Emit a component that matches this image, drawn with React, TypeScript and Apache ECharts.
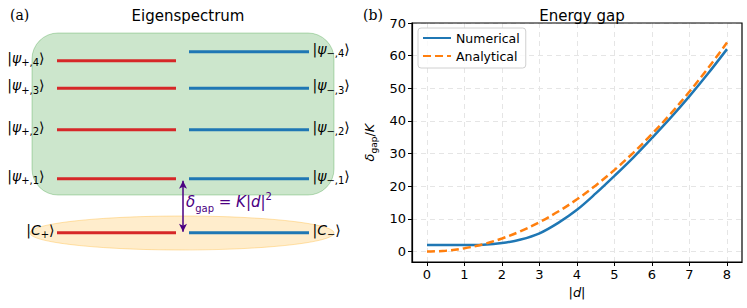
import React, { useEffect, useRef } from "react";
import * as echarts from "echarts";

// ---- Data ----
const dValues = [0, 0.5, 1, 1.5, 2, 2.5, 3, 3.5, 4, 4.5, 5, 5.5, 6, 6.5, 7, 7.5, 8];
const numerical = [2.0, 2.0, 2.0, 2.1, 2.6, 3.7, 5.6, 8.8, 12.8, 17.8, 23.2, 28.8, 34.8, 41.0, 47.6, 54.6, 62.0];
const analytical = [0, 0.25, 1, 2.25, 4, 6.25, 9, 12.25, 16, 20.25, 25, 30.25, 36, 42.25, 49, 56.25, 64];
const xTicks = [0, 1, 2, 3, 4, 5, 6, 7, 8];
const yTicks = [0, 10, 20, 30, 40, 50, 60, 70];

// Eigenspectrum levels (arbitrary energy units), index 0 = cat state
const plusLevels = [0, 5.4, 10.3, 14.45, 17.2];
const minusLevels = [0, 5.4, 10.3, 14.45, 18.1];

const RED = "#d62728";
const BLUE = "#1f77b4";
const ORANGE = "#ff7f0e";
const FONT = "DejaVu Sans";

function ketLabel(i: number, plus: boolean) {
  const sign = plus ? "+" : "−";
  if (i === 0) return `{n||}{it|C}{s|${sign}}{n|⟩}`;
  return `{n||}{it|ψ}{s|${sign},${i}}{n|⟩}`;
}

const ketRich = {
  n: { fontFamily: FONT, fontSize: 14, color: "#000", lineHeight: 20 },
  it: { fontFamily: FONT, fontStyle: "italic", fontSize: 14, color: "#000", lineHeight: 20 },
  s: { fontFamily: FONT, fontSize: 10, color: "#000", lineHeight: 20, verticalAlign: "bottom" },
};

export default function App() {
  const ref = useRef<HTMLDivElement>(null);
  useEffect(() => {
    if (!ref.current) return;
    const chart = echarts.init(ref.current, undefined, { renderer: "svg" });

    const levelSeries: any[] = [];
    const xR0 = 57, xR1 = 176, xB0 = 189, xB1 = 309;
    plusLevels.forEach((E) => {
      levelSeries.push({
        type: "line",
        xAxisIndex: 0,
        yAxisIndex: 0,
        symbol: "none",
        silent: true,
        lineStyle: { color: RED, width: 3 },
        data: [[xR0, E], [xR1, E]],
        z: 3,
      });
    });
    minusLevels.forEach((E) => {
      levelSeries.push({
        type: "line",
        xAxisIndex: 0,
        yAxisIndex: 0,
        symbol: "none",
        silent: true,
        lineStyle: { color: BLUE, width: 3 },
        data: [[xB0, E], [xB1, E]],
        z: 3,
      });
    });
    // ket labels
    levelSeries.push({
      type: "scatter",
      xAxisIndex: 0,
      yAxisIndex: 0,
      symbolSize: 1,
      silent: true,
      itemStyle: { color: "rgba(0,0,0,0)", opacity: 1 },
      z: 6,
      data: [
        ...plusLevels.map((E, i) => ({
          value: [xR0, E],
          label: {
            show: true,
            position: "left",
            distance: i === 0 ? 2 : 12,
            offset: [0, -3],
            color: "#000",
            opacity: 1,
            formatter: ketLabel(i, true),
            rich: ketRich,
          },
        })),
        ...minusLevels.map((E, i) => ({
          value: [xB1, E],
          label: {
            show: true,
            position: "right",
            distance: 3,
            offset: [0, -3],
            color: "#000",
            opacity: 1,
            formatter: ketLabel(i, false),
            rich: ketRich,
          },
        })),
      ],
    });
    // gap arrow
    levelSeries.push({
      type: "line",
      xAxisIndex: 0,
      yAxisIndex: 0,
      symbol: "none",
      data: [],
      markLine: {
        silent: true,
        symbol: ["arrow", "arrow"],
        symbolSize: [6, 8],
        lineStyle: { color: "indigo", width: 1.5, type: "solid" },
        label: { show: false },
        data: [[{ coord: [183, plusLevels[0] + 0.1] }, { coord: [183, plusLevels[1] - 0.2] }]],
      },
    });

    const option: any = {
      animation: false,
      textStyle: { fontFamily: FONT },
      title: [
        { text: "Eigenspectrum", left: 183, top: 3, textAlign: "center", textStyle: { fontFamily: FONT, fontSize: 15, fontWeight: "normal", color: "#000" } },
        { text: "Energy gap", left: 577, top: 3, textAlign: "center", textStyle: { fontFamily: FONT, fontSize: 15, fontWeight: "normal", color: "#000" } },
      ],
      grid: [
        { left: 0, top: 32.7, width: 380, height: 250, show: false },
        { left: 412, top: 23, right: 5, bottom: 46, show: false },
      ],
      xAxis: [
        { gridIndex: 0, type: "value", min: 0, max: 380, show: false },
        {
          gridIndex: 1,
          type: "value",
          min: -0.4,
          max: 8.4,
          name: "{n||}{d|d}{n||}",
          nameLocation: "middle",
          nameGap: 24,
          nameTextStyle: {
            rich: {
              n: { fontFamily: FONT, fontSize: 13, color: "#000" },
              d: { fontFamily: FONT, fontStyle: "italic", fontSize: 13, color: "#000" },
            },
          },
          axisLine: { show: true, onZero: false, lineStyle: { color: "#000", width: 1.2 } },
          axisTick: { show: true, inside: false, length: 4, customValues: xTicks, lineStyle: { color: "#000" } },
          axisLabel: { show: true, customValues: xTicks, fontFamily: FONT, fontSize: 13, color: "#000", margin: 6 },
          splitLine: { show: true, lineStyle: { color: "#e5e5e5", type: [5, 4], width: 1 } },
        },
      ],
      yAxis: [
        { gridIndex: 0, type: "value", min: -5, max: 20, show: false },
        {
          gridIndex: 1,
          type: "value",
          min: -3.2,
          max: 70,
          name: "{d|δ}{s|gap}{n|/}{d|K}",
          nameLocation: "middle",
          nameRotate: 90,
          nameGap: 34,
          nameTextStyle: {
            rich: {
              d: { fontFamily: FONT, fontStyle: "italic", fontSize: 13, color: "#000", lineHeight: 18 },
              s: { fontFamily: FONT, fontSize: 9, color: "#000", lineHeight: 18, verticalAlign: "bottom" },
              n: { fontFamily: FONT, fontSize: 13, color: "#000", lineHeight: 18 },
            },
          },
          axisLine: { show: true, onZero: false, lineStyle: { color: "#000", width: 1.2 } },
          axisTick: { show: true, inside: false, length: 4, customValues: yTicks, lineStyle: { color: "#000" } },
          axisLabel: { show: true, customValues: yTicks, fontFamily: FONT, fontSize: 13, color: "#000", margin: 6 },
          splitLine: { show: true, lineStyle: { color: "#e5e5e5", type: [5, 4], width: 1 } },
        },
      ],
      legend: {
        left: 418,
        top: 28,
        orient: "vertical",
        itemWidth: 28,
        itemHeight: 1,
        itemGap: 4,
        padding: [3, 6, 5, 4],
        borderColor: "#d0d0d0",
        borderWidth: 1,
        borderRadius: 3,
        backgroundColor: "rgba(255,255,255,0.8)",
        itemStyle: { opacity: 0 },
        textStyle: { fontFamily: FONT, fontSize: 12.5, color: "#000", lineHeight: 14 },
        data: ["Numerical", "Analytical"],
      },
      graphic: [
        { type: "text", left: 10, top: 8, z: 10, style: { text: "(a)", font: "14px 'DejaVu Serif'", fill: "#000" } },
        { type: "text", left: 363, top: 8, z: 10, style: { text: "(b)", font: "14px 'DejaVu Serif'", fill: "#000" } },
        {
          type: "rect",
          z: 100,
          silent: true,
          shape: { x: 412, y: 23, width: 330, height: 239 },
          style: { fill: "none", stroke: "#000", lineWidth: 1.2 },
        },
        {
          type: "rect",
          z: 0,
          shape: { x: 32, y: 33, width: 302, height: 162, r: 26 },
          style: { fill: "rgba(0,128,0,0.2)", stroke: "rgba(0,128,0,0.25)", lineWidth: 1 },
        },
        {
          type: "ellipse",
          z: 0,
          shape: { cx: 182, cy: 233, rx: 152, ry: 17 },
          style: { fill: "rgba(255,165,0,0.2)", stroke: "rgba(255,165,0,0.3)", lineWidth: 1 },
        },
        {
          type: "text",
          z: 10,
          x: 186,
          y: 202,
          style: {
            text: "{d|δ}{s|gap}{n| = }{d|K}{n||}{d|d}{n||}{p|2}",
            verticalAlign: "middle",
            align: "left",
            rich: {
              d: { fontFamily: FONT, fontStyle: "italic", fontSize: 15, fill: "indigo", lineHeight: 22 },
              n: { fontFamily: FONT, fontSize: 15, fill: "indigo", lineHeight: 22 },
              s: { fontFamily: FONT, fontSize: 10, fill: "indigo", lineHeight: 22, verticalAlign: "bottom" },
              p: { fontFamily: FONT, fontSize: 10, fill: "indigo", lineHeight: 22, verticalAlign: "top" },
            },
          },
        },
      ],
      series: [
        ...levelSeries,
        {
          name: "Numerical",
          type: "line",
          xAxisIndex: 1,
          yAxisIndex: 1,
          symbol: "none",
          smooth: 0.35,
          color: BLUE,
          lineStyle: { color: BLUE, width: 2.5 },
          data: dValues.map((d, i) => [d, numerical[i]]),
          z: 4,
        },
        {
          name: "Analytical",
          type: "line",
          xAxisIndex: 1,
          yAxisIndex: 1,
          symbol: "none",
          smooth: 0.35,
          color: ORANGE,
          lineStyle: { color: ORANGE, width: 2.5, type: [8, 4] },
          data: dValues.map((d, i) => [d, analytical[i]]),
          z: 5,
        },
      ],
    };
    chart.setOption(option);
    return () => chart.dispose();
  }, []);
  return <div ref={ref} style={{ width: 747, height: 308, position: "absolute", left: 0, top: 0 }} />;
}
